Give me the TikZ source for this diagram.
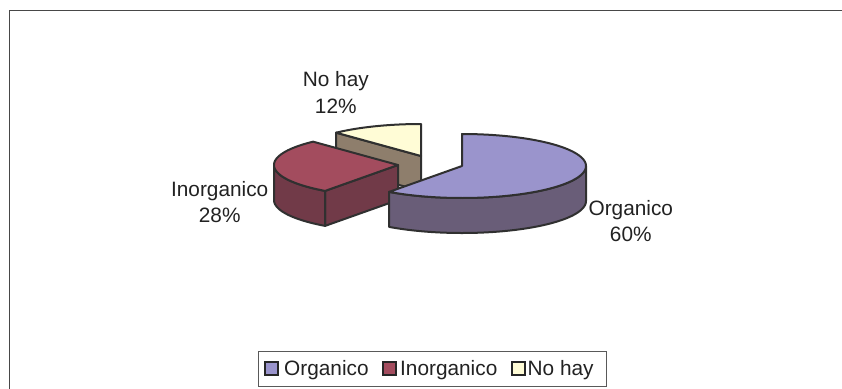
\documentclass[tikz,border=0pt]{standalone}
\usepackage{fontspec}
\setmainfont{Liberation Sans}
\definecolor{orgTop}{RGB}{154,148,204}
\definecolor{orgSide}{RGB}{105,93,120}
\definecolor{inoTop}{RGB}{163,76,94}
\definecolor{inoSide}{RGB}{113,58,72}
\definecolor{nohTop}{RGB}{255,252,214}
\definecolor{nohSide}{RGB}{142,126,108}
\definecolor{txt}{RGB}{34,34,34}
\definecolor{edge}{RGB}{48,48,48}
\def\rx{124}
\def\ry{32}
\def\dep{35}
\newcommand\pietop[5]{%
  \filldraw[slice,fill=#5] (#1,#2) -- plot[domain=#3:#4,samples=90] ({#1+\rx*sin(\x)},{#2-\ry*cos(\x)}) -- cycle;}
\newcommand\pieside[5]{%
  \filldraw[slice,fill=#5] plot[domain=#3:#4,samples=90] ({#1+\rx*sin(\x)},{#2-\ry*cos(\x)}) -- plot[domain=#4:#3,samples=90] ({#1+\rx*sin(\x)},{#2+\dep-\ry*cos(\x)}) -- cycle;}
\newcommand\pieface[4]{%
  \filldraw[slice,fill=#4] (#1,#2) -- ({#1+\rx*sin(#3)},{#2-\ry*cos(#3)}) -- ++(0,\dep) -- (#1,#2+\dep) -- cycle;}
\begin{document}
\begin{tikzpicture}[x=1pt,y=-1pt,
  slice/.style={draw=edge,line width=2pt,line join=round},
  lbl/.style={text=txt,font=\fontsize{20.8}{26.6}\selectfont,align=center,inner sep=0pt},
  legtxt/.style={text=txt,font=\fontsize{20.8}{25}\selectfont,anchor=base west,inner sep=0pt},
  legsq/.style={draw=black!85,line width=2pt,minimum width=13pt,minimum height=13.5pt,inner sep=0pt}]
\useasboundingbox (0,0) rectangle (842,388);
\fill[white] (0,0) rectangle (842,388);
% chart frame
\draw[line width=1.8pt,draw=black!72] (9.5,390) -- (9.5,10.5) -- (844,10.5);
% No hay slice
\pieface{421}{156}{316.8}{nohSide}
\pietop{421}{156}{316.8}{360}{nohTop}
% Inorganico slice
\pieface{398}{165}{216}{inoSide}
\pieside{398}{165}{216}{270}{inoSide}
\pietop{398}{165}{216}{316.8}{inoTop}
% Organico slice
\pieside{462}{166}{90}{216}{orgSide}
\pietop{462}{166}{0}{216}{orgTop}
% labels
\node[lbl,anchor=base] (lno) at (335.8,86.7) {No hay};
\node[lbl,anchor=base] (pno) at (335.8,113.3) {12\%};
\node[lbl,anchor=base] (lino) at (219.7,196) {Inorganico};
\node[lbl,anchor=base] (pino) at (219.7,222.7) {28\%};
\node[lbl,anchor=base] (lorg) at (630.8,215) {Organico};
\node[lbl,anchor=base] (porg) at (630.8,241.7) {60\%};
% legend
\draw[draw=black!65,line width=1pt] (258,351.3) rectangle (606.7,386);
\node[legsq,fill=orgTop] (s1) at (271.2,368.5) {};
\node[legtxt] (t1) at (284,375) {Organico};
\node[legsq,fill=inoTop] (s2) at (389,368.5) {};
\node[legtxt] (t2) at (400,375) {Inorganico};
\node[legsq,fill=nohTop] (s3) at (518.3,368.5) {};
\node[legtxt] (t3) at (527.5,375) {No hay};
\end{tikzpicture}
\end{document}
